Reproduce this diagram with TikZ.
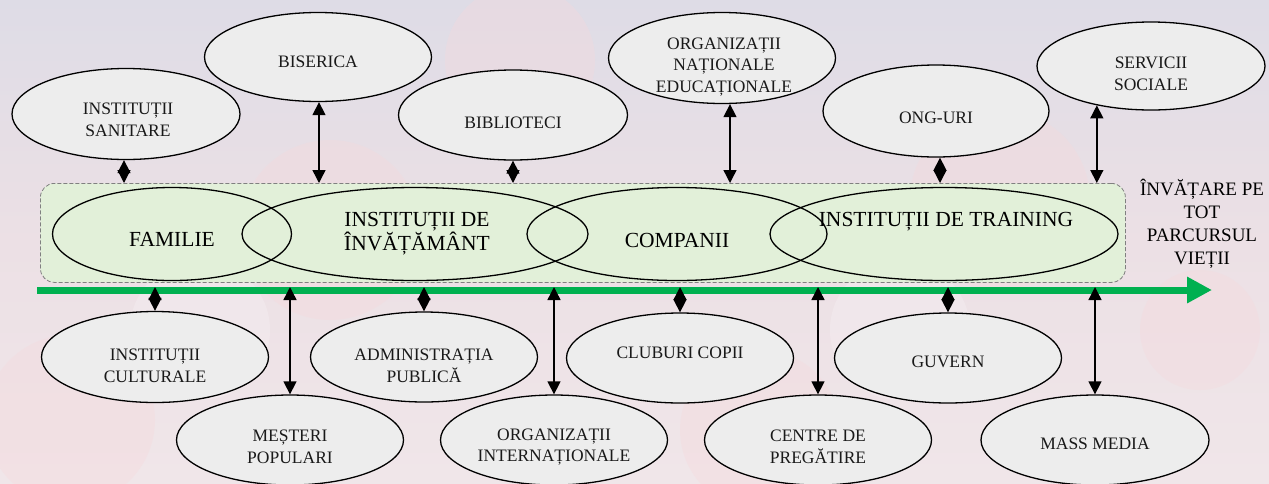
\documentclass[tikz,border=0pt]{standalone}
\usepackage{fontspec}
\setmainfont{Liberation Serif}
\usetikzlibrary{shapes.geometric,arrows.meta}
\definecolor{ovalfill}{HTML}{EDEDED}
\definecolor{bandgreen}{HTML}{E2F0D9}
\definecolor{arrowgreen}{HTML}{00B050}
\definecolor{bgtop}{HTML}{DEDCE6}
\definecolor{bgmid}{HTML}{ECE0E5}
\definecolor{bgbot}{HTML}{F0E6E9}
\definecolor{bokeh}{HTML}{F6D9DC}
\tikzset{
  oval/.style={ellipse, draw=black, line width=1.3pt, fill=ovalfill, minimum width=227pt, minimum height=90pt, inner sep=0pt},
  bigoval/.style={ellipse, draw=black, line width=1.3pt, minimum height=93pt, inner sep=0pt},
  lbl/.style={align=center, inner sep=0pt, text=black!90, font=\fontsize{17.5}{21.5}\selectfont},
  biglbl/.style={align=center, inner sep=0pt, font=\fontsize{21.5}{24}\selectfont},
  sidelbl/.style={align=center, inner sep=0pt, font=\fontsize{19}{23}\selectfont},
  link/.style={{Triangle[width=13pt,length=13pt]}-{Triangle[width=13pt,length=13pt]}, line width=1.4pt, draw=black},
  band/.style={draw=gray, dash pattern=on 4pt off 2pt, line width=0.8pt, fill=bandgreen, rounded corners=14pt, inner sep=0pt},
  bokehc/.style={fill=bokeh, opacity=0.35, draw=none}
}
\begin{document}
\begin{tikzpicture}[x=1pt,y=-1pt]
\useasboundingbox (0,0) rectangle (1269,483);
% background
\shade[top color=bgtop, bottom color=bgbot, middle color=bgmid] (0,0) rectangle (1269,483);
\fill[bokehc] (520,60) circle (75);
\fill[bokehc] (330,230) circle (90);
\fill[bokehc] (70,420) circle (85);
\fill[bokehc] (1000,200) circle (90);
\fill[bokehc] (760,430) circle (80);
\fill[bokehc] (1200,330) circle (60);
\fill[white, opacity=0.2] (200,330) circle (70);
\fill[white, opacity=0.2] (900,330) circle (70);

% band and axis
\node[band, minimum width=1085pt, minimum height=99pt, anchor=north west] (band) at (40,183) {};
\coordinate (axs) at (37,290);
\coordinate (axe) at (1212,290);
\coordinate (axb) at (0,287);
\draw[line width=7pt, arrowgreen, -{Triangle[width=25pt,length=25pt]}] (axs) -- (axe);

% main ellipses
\node[bigoval, minimum width=239pt] (fam) at (172,234) {};
\node[bigoval, minimum width=346pt] (inv) at (415,234) {};
\node[bigoval, minimum width=300pt] (comp) at (677,234) {};
\node[bigoval, minimum width=348pt] (trn) at (944,234) {};
\node[biglbl] (famt) at (172,239) {FAMILIE};
\node[biglbl] (invt) at (417,234) {INSTITUȚII DE\\ÎNVĂȚĂMÂNT};
\node[biglbl] (compt) at (677,240) {COMPANII};
\node[biglbl] (trnt) at (946,222) {INSTITUȚII DE TRAINING};
\node[sidelbl] (side) at (1202,224) {ÎNVĂȚARE PE\\TOT\\PARCURSUL\\VIEȚII};

% top ellipses
\node[oval, minimum width=228pt, minimum height=91pt] (san) at (126,114) {};
\node[oval, minimum height=89pt] (bis) at (318,57) {};
\node[oval, minimum width=229pt, minimum height=90pt] (bib) at (513,115) {};
\node[oval, minimum height=91pt] (orgn) at (722,58) {};
\node[oval, minimum width=226pt, minimum height=92pt] (ong) at (936,111) {};
\node[oval, minimum width=228pt, minimum height=88pt] (serv) at (1151,66) {};
\node[lbl] at (128,120) {INSTITUȚII\\SANITARE};
\node[lbl] at (318,62) {BISERICA};
\node[lbl] at (513,123) {BIBLIOTECI};
\node[lbl] at (724,67) {ORGANIZAȚII\\NAȚIONALE\\EDUCAȚIONALE};
\node[lbl] at (936,118) {ONG-URI};
\node[lbl] at (1151,74) {SERVICII\\SOCIALE};

% bottom ellipses
\node[oval, minimum height=91pt] (cult) at (155,357) {};
\node[oval] (mes) at (290,440) {};
\node[oval] (adm) at (424,357) {};
\node[oval] (orgi) at (554,440) {};
\node[oval] (club) at (680,358) {};
\node[oval] (cen) at (818,440) {};
\node[oval] (guv) at (948,358) {};
\node[oval, minimum width=228pt] (mass) at (1095,440) {};
\node[lbl] at (155,366) {INSTITUȚII\\CULTURALE};
\node[lbl] at (290,447) {MEȘTERI\\POPULARI};
\node[lbl] at (424,366) {ADMINISTRAȚIA\\PUBLICĂ};
\node[lbl] at (554,447) {ORGANIZAȚII\\INTERNAȚIONALE};
\node[lbl] at (680,353) {CLUBURI COPII};
\node[lbl] at (818,447) {CENTRE DE\\PREGĂTIRE};
\node[lbl] at (948,362) {GUVERN};
\node[lbl] at (1095,444) {MASS MEDIA};

% top connectors
\draw[link] ([xshift=-2pt]san.south) -- ([xshift=-2pt]san.south |- band.north);
\draw[link] ([xshift=1pt]bis.south) -- ([xshift=1pt]bis.south |- band.north);
\draw[link] (bib.south) -- (bib.south |- band.north);
\draw[link] ([xshift=8pt]orgn.south) -- ([xshift=8pt]orgn.south |- band.north);
\draw[link] ([xshift=4pt]ong.south) -- ([xshift=4pt]ong.south |- band.north);
\draw[link] (serv.-144) -- (serv.-144 |- band.north);

% bottom connectors
\draw[link] (axb -| cult.north) -- (cult.north);
\draw[link] (axb -| mes.north) -- (mes.north);
\draw[link] (axb -| adm.north) -- (adm.north);
\draw[link] (axb -| orgi.north) -- (orgi.north);
\draw[link] (axb -| club.north) -- (club.north);
\draw[link] (axb -| cen.north) -- (cen.north);
\draw[link] (axb -| guv.north) -- (guv.north);
\draw[link] (axb -| mass.north) -- (mass.north);
\end{tikzpicture}
\end{document}
